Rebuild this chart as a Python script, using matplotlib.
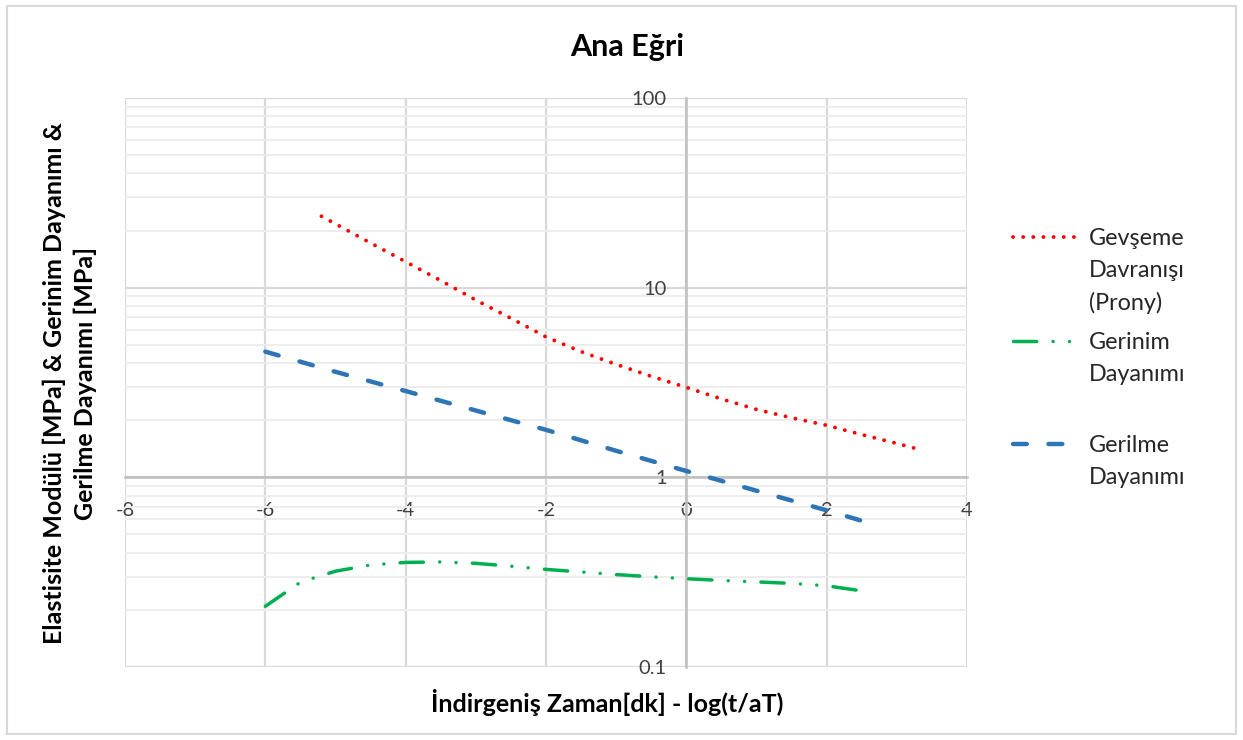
import matplotlib
matplotlib.use("Agg")
import matplotlib.pyplot as plt
from matplotlib.lines import Line2D
from matplotlib.patches import Rectangle
from matplotlib.ticker import FixedLocator, LogLocator, NullFormatter

plt.rcParams['font.family'] = ['Lato', 'DejaVu Sans']

# ---------------- data ----------------
x_prony = [-5.2, -4.5, -4.0, -3.5, -3.0, -2.5, -2.0, -1.5, -1.0, -0.5, 0.0,
           0.5, 1.0, 1.5, 2.0, 2.5, 3.0, 3.36]
y_prony = [23.8, 17.2, 13.7, 10.9, 8.6, 6.9, 5.5, 4.6, 3.94, 3.41, 2.98,
           2.59, 2.28, 2.06, 1.88, 1.68, 1.51, 1.39]

x_gerinim = [-6.0, -5.5, -5.0, -4.5, -4.0, -3.5, -3.0, -2.5, -2.0, -1.5, -1.0,
             -0.5, 0.0, 0.5, 1.0, 1.5, 2.0, 2.5]
y_gerinim = [0.209, 0.28, 0.32, 0.345, 0.356, 0.358, 0.352, 0.34, 0.327, 0.317,
             0.307, 0.299, 0.292, 0.286, 0.281, 0.276, 0.268, 0.252]

x_gerilme = [-6.0, -5.0, -4.0, -3.0, -2.0, -1.0, 0.0, 1.0, 2.0, 2.5]
y_gerilme = [4.6, 3.6, 2.85, 2.25, 1.78, 1.38, 1.08, 0.85, 0.67, 0.59]

x_ticks = [-8, -6, -4, -2, 0, 2, 4]
y_ticks = [0.1, 1, 10, 100]
y_ticklabels = ["0.1", "1", "10", "100"]

title = "Ana Eğri"
xlabel = "İndirgeniş Zaman[dk] - log(t/aT)"
ylabel = "Elastisite Modülü [MPa] & Gerinim Dayanımı &\nGerilme Dayanımı [MPa]"
labels = ["Gevşeme\nDavranışı\n(Prony)", "Gerinim\nDayanımı", "Gerilme\nDayanımı"]
colors = ["#FF0000", "#00B050", "#2E75B6"]

# ---------------- figure ----------------
W, H = 1243, 740
fig = plt.figure(figsize=(W / 100, H / 100), dpi=100)
fig.patch.set_facecolor("white")

def fx(px):
    return px / W

def fy(py):
    return 1 - py / H

ax = fig.add_axes([fx(125), fy(667), (967 - 125) / W, (667 - 98) / H])
ax.set_yscale("log")
ax.set_xlim(-8, 4)
ax.set_ylim(0.1, 100)

# grid
ax.xaxis.set_major_locator(FixedLocator(x_ticks))
ax.yaxis.set_major_locator(FixedLocator(y_ticks))
ax.yaxis.set_minor_locator(LogLocator(base=10, subs=range(2, 10)))
ax.yaxis.set_minor_formatter(NullFormatter())
ax.set_yticklabels(y_ticklabels)
ax.set_xticklabels([str(t) for t in x_ticks])
ax.grid(True, which="minor", axis="y", color="#EDEDED", lw=1.4, zorder=0)
ax.grid(True, which="major", axis="both", color="#D9D9D9", lw=1.6, zorder=0)
ax.set_axisbelow(True)

# axes crossing
for s in ["top", "right"]:
    ax.spines[s].set_visible(False)
ax.spines["bottom"].set_position(("data", 1))
ax.spines["left"].set_position(("data", 0))
ax.spines["bottom"].set_color("#BFBFBF")
ax.spines["left"].set_color("#BFBFBF")
ax.spines["bottom"].set_linewidth(1.8)
ax.spines["left"].set_linewidth(1.8)
ax.tick_params(axis="both", which="both", length=0, labelsize=14.5,
               labelcolor="#404040")
ax.tick_params(axis="x", pad=18)
ax.tick_params(axis="y", pad=14)

# series
red_ls = (0, (0.01, 2.6))
green_ls = (0, (6.7, 4.7, 0.01, 4.7, 0.01, 4.7))
blue_ls = (0, (3.1, 4.9))

ax.plot(x_prony, y_prony, color=colors[0], lw=2.8, ls=red_ls,
        dash_capstyle="round", zorder=3, clip_on=False)
ax.plot(x_gerinim, y_gerinim, color=colors[1], lw=2.5, ls=green_ls,
        dash_capstyle="round", zorder=3, clip_on=False)
ax.plot(x_gerilme, y_gerilme, color=colors[2], lw=3.2, ls=blue_ls,
        dash_capstyle="round", zorder=3, clip_on=False)

# titles
fig.text(fx(627), fy(47), title, ha="center", va="center",
         fontsize=22, fontweight="bold", color="black")
fig.text(fx(607), fy(703), xlabel, ha="center", va="center",
         fontsize=18, fontweight="bold", color="black")
fig.text(fx(70), fy(383), ylabel, ha="center", va="center", rotation=90,
         fontsize=18, fontweight="bold", color="black", multialignment="center",
         linespacing=1.4)

# legend (manual, Excel-like: handle aligned with first text line)
leg_y = [237, 341, 444]
leg_styles = [(red_ls, 2.8), (green_ls, 2.5), (blue_ls, 3.2)]
for (lsy, lw), yy, lab, c in zip(leg_styles, leg_y, labels, colors):
    fig.add_artist(Line2D([fx(1013), fx(1077)], [fy(yy), fy(yy)],
                          transform=fig.transFigure, color=c, lw=lw, ls=lsy,
                          dash_capstyle="round"))
    fig.text(fx(1089), fy(yy - 9), lab, ha="left", va="top",
             fontsize=16.8, color="#262626", linespacing=1.62)

# chart border
fig.add_artist(Rectangle((fx(7), fy(734)), fx(1236) - fx(7), fy(6) - fy(734),
                         transform=fig.transFigure, fill=False,
                         edgecolor="#D9D9D9", lw=1.5))

fig.savefig("out.png", dpi=100)
